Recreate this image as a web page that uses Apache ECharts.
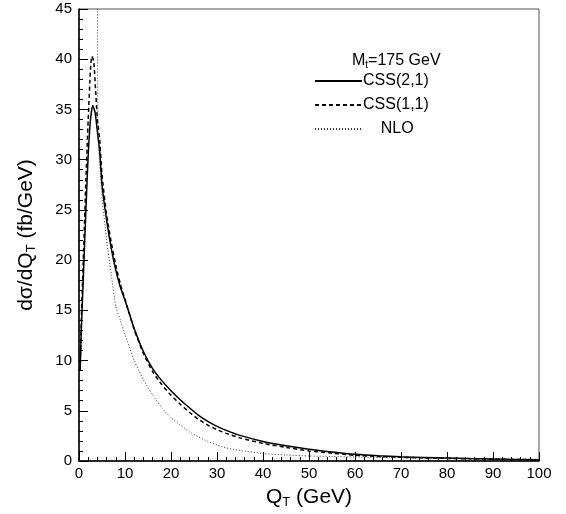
<!DOCTYPE html>
<html>
<head>
<meta charset="utf-8">
<script src="https://cdn.jsdelivr.net/npm/echarts@6/dist/echarts.min.js"></script>
<style>
html,body{margin:0;padding:0;background:#fff;}
#c{width:566px;height:514px;}
</style>
</head>
<body>
<div id="c"></div>
<script>
// ---- data ----
var css21Qt = [0.25,0.5,1,1.5,2,2.5,3,3.5,4,4.5,5,6,7,8,9,10,12,14,16,18,20,22,24,26,28,30,32,35,40,45,50,55,60,65,70,75,80,85,90,95,100];
var css21   = [9,13,19,25,30.5,34,35.4,34.7,32.8,30.8,27.5,24,21.2,19,17.3,16,13.2,10.9,9.2,8.0,7.0,6.1,5.3,4.55,3.95,3.45,3.05,2.55,1.95,1.52,1.17,0.9,0.67,0.52,0.42,0.35,0.29,0.24,0.2,0.16,0.13];
var css11Qt = [0.25,0.5,1,1.5,2,2.5,2.8,3.2,3.6,4,4.5,5,6,7,8,9,10,12,14,16,18,20,22,24,26,28,30,32,35,40,45,50,55,60,65,70,75,80,85,90,95,100];
var css11   = [9,14,21,28,34,39,40.3,39.8,37,34,32,28.5,24.5,21.8,19.5,17.6,16.1,13.1,10.7,8.9,7.6,6.55,5.65,4.85,4.15,3.58,3.12,2.75,2.3,1.75,1.35,1.0,0.78,0.57,0.45,0.37,0.31,0.26,0.22,0.18,0.15,0.12];
var nloQt   = [3.95,4.1,4.5,5,6,7,8,9,10,11,12,13,14,15,16,18,20,22,24,26,28,30,32,35,40,45,50,55,60,70,80,90,100];
var nlo     = [80,33,29.5,26.3,22,18.6,15.4,14,12.6,11.3,10,9,8.1,7.3,6.6,5.3,4.3,3.6,2.9,2.4,1.95,1.6,1.3,1.05,0.75,0.6,0.5,0.45,0.4,0.32,0.25,0.18,0.12];
var seriesNames = ['CSS(2,1)','CSS(1,1)','NLO'];
var xTicks = {min:0, max:100, interval:10};
var yTicks = {min:0, max:45, interval:5};

function pairs(xs, ys){ return xs.map(function(x,i){ return [x, ys[i]]; }); }

var font = 'Liberation Sans, Arial, Helvetica, sans-serif';
var chart = echarts.init(document.getElementById('c'), null, {renderer:'canvas'});
chart.setOption({
  animation:false,
  backgroundColor:'#fff',
  title:{
    text:'{a|M}{s|t}{a|=175 GeV}',
    left:347, top:46,
    textStyle:{
      rich:{
        a:{fontFamily:font,fontSize:16,color:'#000',fontWeight:'normal',lineHeight:20},
        s:{fontFamily:font,fontSize:10,color:'#000',fontWeight:'normal',lineHeight:20,padding:[9,0,0,0]}
      }
    }
  },
  legend:{
    orient:'vertical',
    left:309, top:68,
    itemWidth:47, itemHeight:14, itemGap:8,
    data:seriesNames,
    itemStyle:{opacity:0},
    formatter:function(n){ return n==='NLO' ? '    NLO' : n; },
    textStyle:{fontFamily:font,fontSize:16,color:'#000',padding:[0,0,0,-4]}
  },
  grid:{left:79, right:27, top:9, bottom:45, show:true, borderColor:'#555', borderWidth:1},
  xAxis:{
    type:'value', min:xTicks.min, max:xTicks.max, interval:xTicks.interval,
    name:'{a|Q}{s|T}{a| (GeV)}', nameLocation:'middle', nameGap:24,
    nameTextStyle:{rich:{
      a:{fontFamily:font,fontSize:21,color:'#000'},
      s:{fontFamily:font,fontSize:13,color:'#000',padding:[11,0,0,0]}
    }},
    axisLine:{lineStyle:{color:'#000',width:1.5}},
    axisTick:{inside:true,length:9,lineStyle:{color:'#000',width:1}},
    minorTick:{show:true,splitNumber:5,length:4,lineStyle:{color:'#000',width:1}},
    axisLabel:{fontFamily:font,fontSize:15,color:'#000',margin:5},
    splitLine:{show:false}
  },
  yAxis:{
    type:'value', min:yTicks.min, max:yTicks.max, interval:yTicks.interval,
    name:'{a|dσ/dQ}{s|T}{a| (fb/GeV)}', nameLocation:'middle', nameGap:41, nameRotate:90,
    nameTextStyle:{rich:{
      a:{fontFamily:font,fontSize:21,color:'#000'},
      s:{fontFamily:font,fontSize:13,color:'#000',padding:[11,0,0,0]}
    }},
    axisLine:{lineStyle:{color:'#000',width:1.5}},
    axisTick:{inside:true,length:9,lineStyle:{color:'#000',width:1}},
    minorTick:{show:true,splitNumber:5,length:4,lineStyle:{color:'#000',width:1}},
    axisLabel:{fontFamily:font,fontSize:15,color:'#000',margin:7},
    splitLine:{show:false}
  },
  series:[
    {name:seriesNames[0], type:'line', data:pairs(css21Qt,css21), symbol:'none', smooth:0.2,
     color:'#000', lineStyle:{color:'#000',width:1.5,type:'solid'}},
    {name:seriesNames[1], type:'line', data:pairs(css11Qt,css11), symbol:'none', smooth:0.2,
     color:'#000', lineStyle:{color:'#000',width:1.5,type:[4,3]}},
    {name:seriesNames[2], type:'line', data:pairs(nloQt,nlo), symbol:'none', smooth:0.2,
     color:'#333', lineStyle:{color:'#333',width:1,type:[1,2]}}
  ]
});
</script>
</body>
</html>
